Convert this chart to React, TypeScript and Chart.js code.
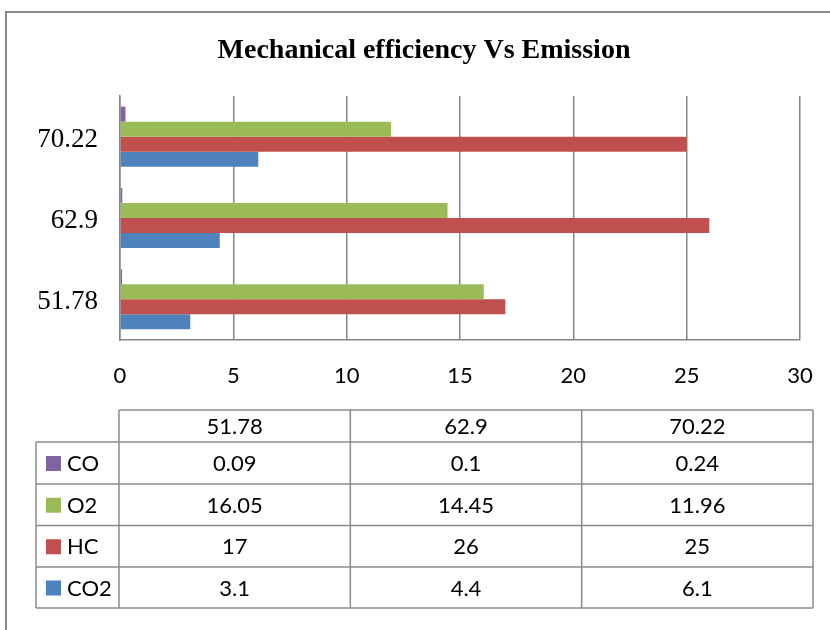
import React, { useEffect, useRef } from "react";
import { Chart, registerables } from "chart.js";

Chart.register(...registerables);

const TITLE = "Mechanical efficiency Vs Emission";
const categories = ["51.78", "62.9", "70.22"];
const seriesNames = ["CO", "O2", "HC", "CO2"];
const seriesColors = ["#8064A2", "#9BBB59", "#C0504D", "#4F81BD"];
const CO = [0.09, 0.1, 0.24];
const O2 = [16.05, 14.45, 11.96];
const HC = [17, 26, 25];
const CO2 = [3.1, 4.4, 6.1];
const seriesValues = [CO, O2, HC, CO2];
const xMin = 0;
const xMax = 30;
const xStep = 5;

const SANS = "Lato, 'Open Sans', sans-serif";
const SERIF = "'Liberation Serif', 'DejaVu Serif', serif";
const LINE = "#8a8a8a";

const decorPlugin = {
  id: "decor",
  beforeDraw(chart: any) {
    const ctx = chart.ctx;
    ctx.save();
    ctx.fillStyle = "#ffffff";
    ctx.fillRect(0, 0, chart.width, chart.height);
    ctx.strokeStyle = LINE;
    ctx.lineWidth = 2;
    ctx.strokeRect(6, 12, chart.width + 20, chart.height + 20);
    ctx.restore();
  },
  afterDraw(chart: any) {
    const ctx = chart.ctx;
    ctx.save();
    // title
    ctx.fillStyle = "#000";
    ctx.font = "bold 28px " + SERIF;
    ctx.textAlign = "center";
    ctx.textBaseline = "alphabetic";
    ctx.fillText(TITLE, 424, 58);

    // data table
    const tLeft = 119;
    const tRight = 813;
    const legLeft = 36;
    const rows = [410, 442, 484, 525.5, 567, 608];
    const colW = (tRight - tLeft) / categories.length;
    ctx.strokeStyle = LINE;
    ctx.lineWidth = 1.5;
    ctx.beginPath();
    ctx.moveTo(tLeft, rows[0]);
    ctx.lineTo(tRight, rows[0]);
    for (let i = 1; i < rows.length; i++) {
      ctx.moveTo(legLeft, rows[i]);
      ctx.lineTo(tRight, rows[i]);
    }
    ctx.moveTo(legLeft, rows[1]);
    ctx.lineTo(legLeft, rows[rows.length - 1]);
    for (let c = 0; c <= categories.length; c++) {
      const x = tLeft + c * colW;
      ctx.moveTo(x, rows[0]);
      ctx.lineTo(x, rows[rows.length - 1]);
    }
    ctx.stroke();

    ctx.fillStyle = "#000";
    ctx.font = "22px " + SANS;
    ctx.textBaseline = "middle";
    ctx.textAlign = "center";
    categories.forEach((c, i) => {
      ctx.fillText(c, tLeft + colW * (i + 0.5), (rows[0] + rows[1]) / 2 + 1);
    });
    seriesNames.forEach((name, r) => {
      const yc = (rows[r + 1] + rows[r + 2]) / 2 + 1;
      ctx.fillStyle = seriesColors[r];
      ctx.fillRect(46, yc - 8, 15, 15);
      ctx.fillStyle = "#000";
      ctx.textAlign = "left";
      ctx.fillText(name, 67, yc);
      ctx.textAlign = "center";
      seriesValues[r].forEach((v, i) => {
        ctx.fillText(String(v), tLeft + colW * (i + 0.5), yc);
      });
    });
    ctx.restore();
  },
};

export default function App() {
  const ref = useRef<HTMLCanvasElement>(null);
  useEffect(() => {
    if (!ref.current) return;
    const labels = [...categories].reverse();
    const chart = new Chart(ref.current, {
      type: "bar",
      data: {
        labels,
        datasets: seriesNames.map((name, i) => ({
          label: name,
          data: [...seriesValues[i]].reverse(),
          backgroundColor: seriesColors[i],
          borderWidth: 0,
          categoryPercentage: 0.738,
          barPercentage: 1,
        })),
      },
      options: {
        indexAxis: "y",
        responsive: false,
        animation: false,
        layout: { padding: { top: 96, right: 30, bottom: 240, left: 0 } },
        plugins: {
          legend: { display: false },
          title: { display: false },
          tooltip: { enabled: false },
        },
        scales: {
          x: {
            type: "linear",
            min: xMin,
            max: xMax,
            ticks: {
              stepSize: xStep,
              color: "#000",
              font: { family: SANS, size: 22 },
              padding: 23,
            },
            grid: { color: "#868686", lineWidth: 1.5, drawTicks: false },
            border: { color: "#868686", width: 1.5 },
            afterFit: (s: any) => {
              s.height = 50;
              s.paddingLeft = 0;
              s.paddingRight = 0;
            },
          },
          y: {
            type: "category",
            ticks: {
              color: "#000",
              font: { family: SERIF, size: 27 },
              padding: 22,
              labelOffset: 3,
            },
            grid: { color: "rgba(0,0,0,0)", drawTicks: false },
            border: { color: "#868686", width: 1.5 },
            afterFit: (s: any) => {
              s.width = 120;
              s.paddingTop = 0;
              s.paddingBottom = 0;
            },
          },
        },
      } as any,
      plugins: [decorPlugin],
    });
    return () => chart.destroy();
  }, []);
  return (
    <canvas
      ref={ref}
      width={830}
      height={630}
      style={{ position: "absolute", left: 0, top: 0, display: "block" }}
    />
  );
}
